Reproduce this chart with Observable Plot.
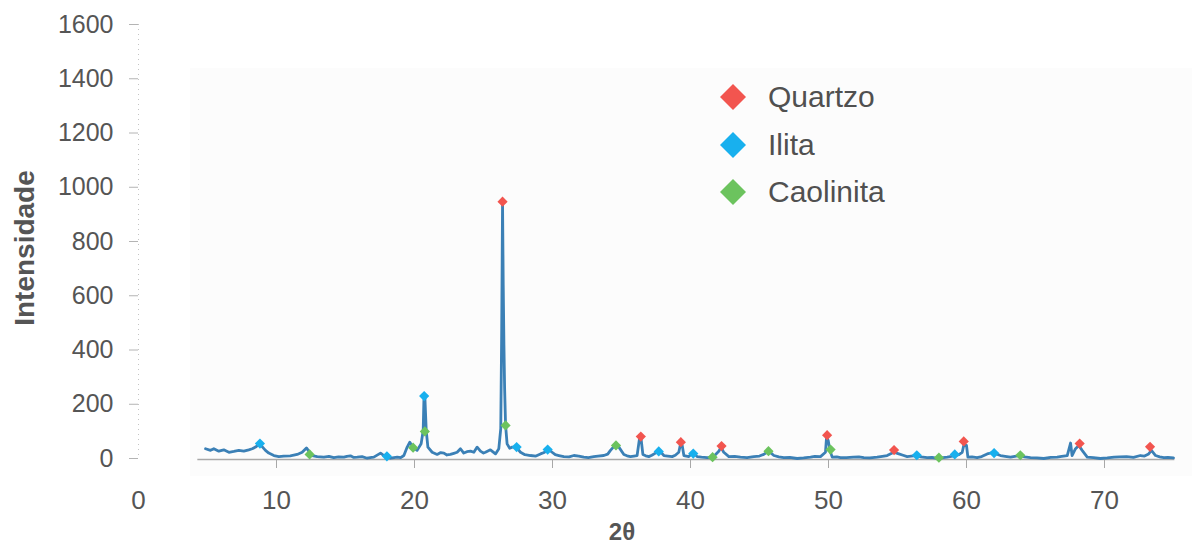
<!DOCTYPE html>
<html>
<head>
<meta charset="utf-8">
<script src="https://cdn.jsdelivr.net/npm/d3@7"></script>
<script src="https://cdn.jsdelivr.net/npm/@observablehq/plot@0.6"></script>
<style>
  body { margin: 0; background: #fff; }
  #chart { position: relative; width: 1192px; height: 546px; background: #fff;
           font-family: "Liberation Sans", Arial, sans-serif; }
  #panel { position: absolute; left: 190px; top: 68px; width: 1002px; height: 408px; background: #fcfcfc; }
  #chart > svg { position: absolute; left: 0; top: 0; }
  #chart .item { position: absolute; left: 719px; height: 30px; display: flex; align-items: center;
          font-size: 30px; line-height: 30px; color: #505050; }
  #chart .item svg { position: static; margin-right: 21px; flex: none; }
</style>
</head>
<body>
<div id="chart"><div id="panel"></div></div>
<script>
// X-ray diffraction pattern: [2θ (degrees), intensity]
const pattern = [
  [4.86,36],[5.22,30],[5.46,36],[5.82,27],[6.18,32],[6.55,23],[6.91,26],[7.27,30],[7.63,27],[7.99,32],
  [8.24,36],[8.48,42],[8.77,54],[8.96,44],[9.2,30],[9.44,20],[9.81,11],[10.17,7],[10.53,9],[11.0,10],
  [11.5,15],[11.86,23],[12.17,39],[12.34,27],[12.58,11],[12.95,7],[13.43,5],[13.8,8],[14.15,3],[14.5,6],
  [14.88,5],[15.1,8],[15.36,10],[15.6,4],[15.85,5],[16.2,7],[16.57,1],[16.9,4],[17.05,5],[17.54,20],
  [17.78,11],[18.26,1],[18.75,5],[19.0,3],[19.23,11],[19.47,42],[19.66,60],[19.88,42],[20.19,30],[20.48,54],
  [20.63,103],[20.68,214],[20.75,229],[20.85,103],[20.97,42],[21.28,23],[21.64,15],[21.9,22],[22.13,20],[22.35,13],
  [22.6,15],[22.85,19],[23.09,23],[23.33,36],[23.57,20],[23.8,25],[24.06,27],[24.3,23],[24.54,42],[24.78,27],
  [25.0,20],[25.14,23],[25.5,32],[25.87,17],[26.11,36],[26.25,110],[26.32,480],[26.38,945],[26.43,640],[26.48,420],
  [26.53,260],[26.6,122],[26.71,54],[26.9,38],[27.08,42],[27.37,42],[27.68,23],[28.0,14],[28.4,11],[28.8,9],
  [29.13,17],[29.4,22],[29.65,36],[29.97,23],[30.2,14],[30.46,11],[30.82,7],[31.2,6],[31.55,11],[31.9,9],
  [32.27,5],[32.6,3],[32.99,7],[33.3,9],[33.72,11],[34.0,16],[34.2,30],[34.57,51],[34.81,42],[35.17,15],
  [35.4,10],[35.65,7],[35.9,9],[36.13,11],[36.3,72],[36.42,72],[36.55,15],[36.75,10],[36.98,7],[37.2,12],
  [37.46,20],[37.7,32],[38.07,11],[38.35,9],[38.67,7],[38.9,12],[39.15,23],[39.28,54],[39.4,48],[39.52,11],
  [39.88,7],[40.19,23],[40.48,7],[40.8,5],[41.21,3],[41.62,5],[42.05,27],[42.22,42],[42.41,23],[42.78,7],
  [43.2,8],[43.62,5],[44.1,3],[44.59,7],[45.0,9],[45.31,15],[45.67,27],[46.04,11],[46.4,6],[46.76,3],
  [47.2,4],[47.73,0],[48.2,2],[48.7,5],[49.0,8],[49.42,7],[49.78,23],[49.86,79],[49.98,66],[50.1,30],
  [50.27,5],[50.6,6],[50.87,3],[51.3,3],[51.8,5],[52.2,6],[52.56,3],[53.0,2],[53.53,5],[53.9,8],
  [54.25,11],[54.73,23],[55.1,17],[55.4,12],[55.7,7],[56.0,9],[56.35,11],[56.7,6],[57.15,3],[57.5,4],
  [57.95,0],[58.3,3],[58.6,5],[58.9,8],[59.16,11],[59.45,14],[59.69,23],[59.8,48],[60.0,48],[60.1,5],
  [60.4,6],[60.77,3],[61.1,7],[61.5,17],[61.98,23],[62.2,16],[62.46,11],[62.8,8],[63.19,5],[63.5,8],
  [63.9,11],[64.2,6],[64.64,3],[65.1,2],[65.6,0],[66.1,4],[66.57,5],[66.9,8],[67.3,11],[67.54,57],
  [67.65,11],[67.9,36],[68.14,48],[68.38,30],[68.75,5],[69.2,3],[69.7,0],[70.2,2],[70.7,5],[71.1,6],
  [71.6,7],[72.1,4],[72.6,11],[72.9,9],[73.2,17],[73.4,30],[73.7,11],[74.0,6],[74.3,3],[74.6,4],
  [75.0,2]
];

// Identified phase reflections: [2θ, intensity]
const quartzo = [[26.38,947],[36.4,81],[39.3,60],[42.25,46],[49.9,86],[54.75,31],[59.8,63],[68.2,55],[73.3,43]];
const ilita = [[8.8,55],[18.0,8],[20.7,230],[27.4,42],[29.65,33],[37.7,26],[40.2,18],[56.4,12],[59.15,15],[62.0,20]];
const caolinita = [[12.4,15],[19.9,40],[20.75,100],[26.6,122],[34.6,48],[41.6,5],[45.65,27],[50.15,33],[58.0,3],[63.9,12]];

const phases = [
  {name: "Quartzo", color: "#f2554f", data: quartzo},
  {name: "Ilita", color: "#18b0ee", data: ilita},
  {name: "Caolinita", color: "#6cc35e", data: caolinita}
];

const yTicks = [0, 200, 400, 600, 800, 1000, 1200, 1400, 1600];
const xLabelTicks = [0, 10, 20, 30, 40, 50, 60, 70];
const xMarkTicks = [10, 20, 30, 40, 50, 60, 70];
const baselineStart = 4.3;
const baselineEnd = 75.1;
const lineColor = "#3b80b6";
const font = "'Liberation Sans', Arial, sans-serif";

const plot = Plot.plot({
  width: 1192,
  height: 546,
  marginLeft: 138,
  marginRight: 19,
  marginTop: 24,
  marginBottom: 88,
  x: {domain: [0, 75]},
  y: {domain: [0, 1600]},
  style: {fontFamily: font, background: "transparent", overflow: "visible"},
  marks: [
    Plot.ruleX([0], {stroke: "#c4c4c4", strokeDasharray: "1 4"}),
    Plot.axisY({ticks: yTicks, tickFormat: d3.format("d"), tickSize: 9, tickPadding: 16, fontSize: 25, fill: "#555", stroke: "#b4b4b4", label: null}),
    Plot.axisX({ticks: xLabelTicks, tickFormat: d3.format("d"), tickSize: 0, tickPadding: 32, fontSize: 26, fill: "#555", label: null}),
    Plot.axisX({ticks: xMarkTicks, tickSize: 9, tickFormat: () => "", stroke: "#a8a8a8", label: null, dy: 1}),
    Plot.ruleY([0], {x1: baselineStart, x2: baselineEnd, stroke: "#a8a8a8", strokeWidth: 1.5, dy: 1}),
    Plot.line(pattern, {x: d => d[0], y: d => d[1], stroke: lineColor, strokeWidth: 2.8, strokeLinejoin: "round"}),
    ...phases.map(p => Plot.dot(p.data, {x: d => d[0], y: d => d[1], symbol: "diamond2", r: 4.6, fill: p.color}))
  ]
});

const svg = d3.select(plot);
svg.append("text")
  .attr("transform", "translate(34,248) rotate(-90)")
  .attr("text-anchor", "middle")
  .attr("font-family", font).attr("font-size", 28).attr("font-weight", "bold").attr("fill", "#555")
  .text("Intensidade");
svg.append("text")
  .attr("x", 622).attr("y", 540)
  .attr("text-anchor", "middle")
  .attr("font-family", font).attr("font-size", 24).attr("font-weight", "bold").attr("fill", "#555")
  .text("2θ");

const chart = document.getElementById("chart");
chart.appendChild(plot);

// Legend for the phases
const legendTop = [97, 144.5, 192];
phases.forEach((p, i) => {
  const item = document.createElement("div");
  item.className = "item";
  item.style.top = (legendTop[i] - 15) + "px";
  item.innerHTML = `<svg width="28" height="28" viewBox="0 0 28 28"><path d="M14 1 L27 14 L14 27 L1 14 Z" fill="${p.color}"/></svg><span>${p.name}</span>`;
  chart.appendChild(item);
});
</script>
</body>
</html>
